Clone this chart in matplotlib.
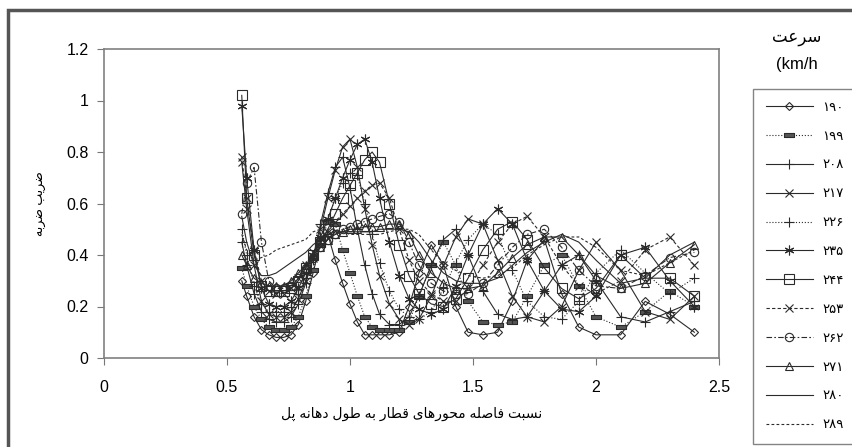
import matplotlib
matplotlib.use('Agg')
import matplotlib.pyplot as plt
from matplotlib.patches import Rectangle

plt.rcParams['font.family'] = ['Liberation Sans', 'DejaVu Sans']

# ratio of train axle spacing to span length
x = [0.56, 0.58, 0.61, 0.64, 0.67, 0.70, 0.73, 0.76, 0.79, 0.82,
     0.85, 0.88, 0.91, 0.94, 0.97, 1.00, 1.03, 1.06, 1.09, 1.12,
     1.16, 1.20, 1.24, 1.28, 1.33, 1.38, 1.43, 1.48, 1.54, 1.60,
     1.66, 1.72, 1.79, 1.86, 1.93, 2.00, 2.10, 2.20, 2.30, 2.40]

# impact factor for each train speed (km/h)
y_190 = [0.30, 0.24, 0.16, 0.11, 0.09, 0.08, 0.08, 0.09, 0.13, 0.22,
         0.33, 0.45, 0.48, 0.38, 0.29, 0.21, 0.14, 0.09, 0.09, 0.09,
         0.09, 0.10, 0.20, 0.33, 0.44, 0.36, 0.20, 0.10, 0.09, 0.10,
         0.22, 0.38, 0.46, 0.25, 0.12, 0.09, 0.09, 0.22, 0.17, 0.10]
y_199 = [0.35, 0.28, 0.20, 0.15, 0.12, 0.11, 0.11, 0.12, 0.16, 0.24,
         0.34, 0.44, 0.53, 0.52, 0.42, 0.33, 0.24, 0.16, 0.12, 0.11,
         0.11, 0.11, 0.14, 0.24, 0.36, 0.45, 0.36, 0.22, 0.14, 0.13,
         0.14, 0.24, 0.36, 0.40, 0.28, 0.16, 0.12, 0.18, 0.26, 0.20]
y_208 = [0.45, 0.36, 0.25, 0.18, 0.15, 0.14, 0.14, 0.16, 0.21, 0.29,
         0.39, 0.52, 0.64, 0.74, 0.78, 0.66, 0.50, 0.36, 0.25, 0.17,
         0.13, 0.13, 0.16, 0.24, 0.36, 0.46, 0.50, 0.40, 0.26, 0.17,
         0.15, 0.16, 0.26, 0.36, 0.40, 0.30, 0.16, 0.14, 0.18, 0.22]
y_217 = [0.76, 0.58, 0.36, 0.22, 0.17, 0.16, 0.16, 0.18, 0.23, 0.30,
         0.39, 0.50, 0.62, 0.73, 0.82, 0.85, 0.74, 0.58, 0.44, 0.32,
         0.21, 0.15, 0.13, 0.15, 0.24, 0.36, 0.47, 0.54, 0.52, 0.38,
         0.24, 0.16, 0.14, 0.20, 0.34, 0.45, 0.34, 0.18, 0.15, 0.24]
y_226 = [0.50, 0.40, 0.28, 0.21, 0.18, 0.18, 0.18, 0.20, 0.25, 0.31,
         0.38, 0.46, 0.54, 0.62, 0.68, 0.72, 0.71, 0.60, 0.48, 0.37,
         0.26, 0.19, 0.16, 0.15, 0.18, 0.27, 0.37, 0.46, 0.52, 0.48,
         0.34, 0.22, 0.16, 0.15, 0.22, 0.33, 0.42, 0.33, 0.25, 0.31]
y_235 = [0.98, 0.70, 0.42, 0.27, 0.21, 0.20, 0.20, 0.22, 0.27, 0.33,
         0.40, 0.47, 0.54, 0.62, 0.70, 0.77, 0.83, 0.85, 0.76, 0.62,
         0.45, 0.32, 0.23, 0.19, 0.17, 0.19, 0.28, 0.40, 0.52, 0.58,
         0.52, 0.38, 0.26, 0.19, 0.18, 0.24, 0.40, 0.43, 0.30, 0.20]
y_244 = [1.02, 0.62, 0.40, 0.28, 0.26, 0.26, 0.26, 0.27, 0.30, 0.35,
         0.40, 0.45, 0.50, 0.56, 0.62, 0.67, 0.72, 0.77, 0.80, 0.76,
         0.60, 0.44, 0.32, 0.25, 0.21, 0.20, 0.23, 0.31, 0.42, 0.50,
         0.53, 0.46, 0.35, 0.27, 0.23, 0.27, 0.40, 0.31, 0.31, 0.24]
y_253 = [0.78, 0.62, 0.42, 0.30, 0.26, 0.25, 0.25, 0.27, 0.31, 0.36,
         0.41, 0.45, 0.49, 0.53, 0.56, 0.59, 0.62, 0.65, 0.67, 0.68,
         0.62, 0.50, 0.38, 0.30, 0.25, 0.22, 0.22, 0.27, 0.36, 0.45,
         0.52, 0.55, 0.47, 0.36, 0.28, 0.25, 0.30, 0.42, 0.47, 0.36]
y_262 = [0.56, 0.68, 0.74, 0.45, 0.30, 0.27, 0.27, 0.28, 0.31, 0.35,
         0.39, 0.43, 0.46, 0.48, 0.50, 0.51, 0.52, 0.53, 0.54, 0.55,
         0.56, 0.53, 0.45, 0.36, 0.29, 0.26, 0.25, 0.25, 0.29, 0.36,
         0.43, 0.48, 0.50, 0.43, 0.34, 0.28, 0.27, 0.32, 0.39, 0.41]
y_271 = [0.40, 0.36, 0.31, 0.29, 0.28, 0.28, 0.28, 0.30, 0.33, 0.36,
         0.40, 0.43, 0.46, 0.48, 0.49, 0.50, 0.50, 0.51, 0.51, 0.51,
         0.52, 0.52, 0.48, 0.40, 0.33, 0.29, 0.27, 0.27, 0.28, 0.33,
         0.39, 0.44, 0.47, 0.47, 0.40, 0.32, 0.27, 0.29, 0.37, 0.44]
y_280 = [0.55, 0.45, 0.36, 0.32, 0.32, 0.33, 0.35, 0.37, 0.39, 0.41,
         0.44, 0.46, 0.48, 0.49, 0.49, 0.49, 0.49, 0.49, 0.49, 0.50,
         0.50, 0.50, 0.49, 0.45, 0.38, 0.33, 0.30, 0.29, 0.29, 0.31,
         0.36, 0.41, 0.45, 0.48, 0.45, 0.38, 0.29, 0.31, 0.40, 0.45]
y_289 = [0.48, 0.42, 0.38, 0.39, 0.40, 0.42, 0.43, 0.44, 0.45, 0.46,
         0.49, 0.50, 0.50, 0.50, 0.49, 0.48, 0.48, 0.48, 0.48, 0.48,
         0.49, 0.50, 0.50, 0.48, 0.42, 0.37, 0.34, 0.32, 0.31, 0.32,
         0.35, 0.40, 0.44, 0.47, 0.47, 0.43, 0.34, 0.32, 0.37, 0.42]

speed_labels = ['۱۹۰', '۱۹۹', '۲۰۸', '۲۱۷', '۲۲۶', '۲۳۵',
                '۲۴۴', '۲۵۳', '۲۶۲', '۲۷۱', '۲۸۰', '۲۸۹']
xticks = [0, 0.5, 1, 1.5, 2, 2.5]
xtick_labels = ['0', '0.5', '1', '1.5', '2', '2.5']
yticks = [0, 0.2, 0.4, 0.6, 0.8, 1.0, 1.2]
ytick_labels = ['0', '0.2', '0.4', '0.6', '0.8', '1', '1.2']


# matplotlib has no arabic shaping, so pick presentation forms by hand
FORMS = {  # isolated, final, initial, medial
    'ا': ('\uFE8D', '\uFE8E', None, None),
    'ب': ('\uFE8F', '\uFE90', '\uFE91', '\uFE92'),
    'ت': ('\uFE95', '\uFE96', '\uFE97', '\uFE98'),
    'ح': ('\uFEA1', '\uFEA2', '\uFEA3', '\uFEA4'),
    'د': ('\uFEA9', '\uFEAA', None, None),
    'ر': ('\uFEAD', '\uFEAE', None, None),
    'س': ('\uFEB1', '\uFEB2', '\uFEB3', '\uFEB4'),
    'ص': ('\uFEB9', '\uFEBA', '\uFEBB', '\uFEBC'),
    'ض': ('\uFEBD', '\uFEBE', '\uFEBF', '\uFEC0'),
    'ط': ('\uFEC1', '\uFEC2', '\uFEC3', '\uFEC4'),
    'ع': ('\uFEC9', '\uFECA', '\uFECB', '\uFECC'),
    'ف': ('\uFED1', '\uFED2', '\uFED3', '\uFED4'),
    'ق': ('\uFED5', '\uFED6', '\uFED7', '\uFED8'),
    'ل': ('\uFEDD', '\uFEDE', '\uFEDF', '\uFEE0'),
    'م': ('\uFEE1', '\uFEE2', '\uFEE3', '\uFEE4'),
    'ن': ('\uFEE5', '\uFEE6', '\uFEE7', '\uFEE8'),
    'ه': ('\uFEE9', '\uFEEA', '\uFEEB', '\uFEEC'),
    'و': ('\uFEED', '\uFEEE', None, None),
    'ی': ('\uFBFC', '\uFBFD', '\uFBFE', '\uFBFF'),
    'پ': ('\uFB56', '\uFB57', '\uFB58', '\uFB59'),
}


def fa(text):
    out = []
    for i, c in enumerate(text):
        if c not in FORMS:
            out.append(c)
            continue
        prev = text[i - 1] if i > 0 else ''
        nxt = text[i + 1] if i + 1 < len(text) else ''
        joins_prev = prev in FORMS and FORMS[prev][2] is not None
        joins_next = nxt in FORMS and FORMS[c][2] is not None
        iso, fin, ini, med = FORMS[c]
        if joins_prev and joins_next:
            out.append(med)
        elif joins_prev:
            out.append(fin)
        elif joins_next:
            out.append(ini)
        else:
            out.append(iso)
    return ''.join(out)[::-1]


bar = [(-1.6, -0.5), (1.6, -0.5), (1.6, 0.5), (-1.6, 0.5), (-1.6, -0.5)]
ink = '#2b2b2b'
series = [
    (y_190, '-', 'D', 4.5, 'none'),
    (y_199, ':', bar, 7, '#555555'),
    (y_208, '-', '+', 7, 'none'),
    (y_217, '-', 'x', 6, 'none'),
    (y_226, ':', '+', 7, 'none'),
    (y_235, '-', (6, 2, 0), 7, 'none'),
    (y_244, '-', 's', 6.5, 'none'),
    (y_253, (0, (3, 2)), 'x', 6, 'none'),
    (y_262, (0, (5, 2, 1.5, 2)), 'o', 6, 'none'),
    (y_271, '-', '^', 6, 'none'),
    (y_280, '-', None, 0, 'none'),
    (y_289, (0, (2.5, 2)), None, 0, 'none'),
]

fig = plt.figure(figsize=(8.52, 4.47), dpi=100)
ax = fig.add_axes([104 / 852, 1 - 358 / 447, 615 / 852, 309 / 447])

handles = []
for (y, ls, mk, ms, fc), lab in zip(series, speed_labels):
    h, = ax.plot(x, y, linestyle=ls, marker=mk, markersize=ms, color=ink,
                 markerfacecolor=fc, markeredgecolor=ink, markeredgewidth=0.8,
                 linewidth=0.8, label=lab)
    handles.append(h)

ax.set_xlim(0, 2.5)
ax.set_ylim(0, 1.2)
ax.set_xticks(xticks)
ax.set_xticklabels(xtick_labels)
ax.set_yticks(yticks)
ax.set_yticklabels(ytick_labels)
ax.tick_params(axis='x', direction='out', length=5, pad=11, labelsize=11.5, color='#777777')
ax.tick_params(axis='y', direction='out', length=5, pad=6, labelsize=11.5, color='#777777')
for sp in ax.spines.values():
    sp.set_color('#808080')
    sp.set_linewidth(1.2)

ax.set_xlabel(fa('نسبت فاصله محورهای قطار به طول دهانه پل'), fontsize=10, labelpad=8)
ax.set_ylabel(fa('ضریب ضربه'), fontsize=9, labelpad=14)

leg = fig.legend(handles=handles, loc='upper left', bbox_to_anchor=(753 / 852, 1 - 89 / 447),
                 fontsize=9.5, handlelength=3.6, labelspacing=1.26, frameon=True,
                 fancybox=False, borderaxespad=0, borderpad=0.95, handletextpad=0.7)
leg.get_frame().set_edgecolor('#666666')
leg.get_frame().set_linewidth(1.0)

fig.text(797 / 852, 1 - 39 / 447, fa('سرعت'), ha='center', va='center', fontsize=12)
fig.text(797 / 852, 1 - 65 / 447, '(km/h', ha='center', va='center', fontsize=12)

# chart area border
fig.patches.append(Rectangle((8 / 852, -0.2), 1.2, 1.2 - 10 / 447, transform=fig.transFigure,
                             fill=False, linewidth=2.5, edgecolor='#555555'))

fig.savefig('out.png', dpi=100)
